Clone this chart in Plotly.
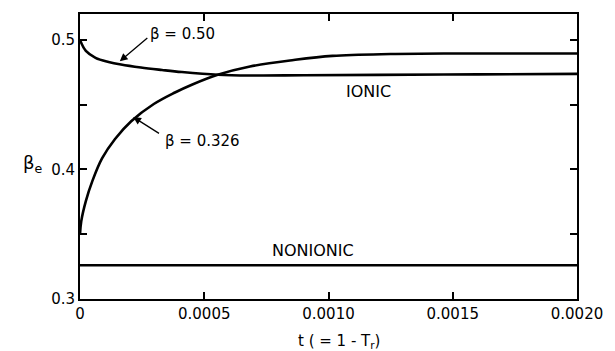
import plotly.graph_objects as go

# beta = 0.50 curve (ionic)
t_b50 = [0.0, 0.0000235, 0.0000625, 0.000115, 0.000165, 0.000245, 0.00033, 0.00041, 0.000555, 0.000684, 0.0009, 0.0012, 0.0016, 0.0020]
v_b50 = [0.500, 0.4915, 0.4862, 0.4830, 0.4810, 0.4787, 0.4768, 0.4752, 0.4731, 0.4725, 0.4727, 0.4730, 0.4734, 0.4738]

# beta = 0.326 curve (ionic)
t_b326 = [0.0, 0.000005, 0.0000235, 0.0000496, 0.0000887, 0.000141, 0.000206, 0.000297, 0.00038, 0.00045, 0.000554, 0.000684, 0.00086, 0.001016, 0.00125, 0.0015, 0.0020]
v_b326 = [0.350, 0.3600, 0.3756, 0.3910, 0.4085, 0.4235, 0.4372, 0.4505, 0.4592, 0.4654, 0.4731, 0.4795, 0.4845, 0.4877, 0.4891, 0.4895, 0.4895]

# nonionic
t_non = [0.0, 0.0020]
v_non = [0.326, 0.326]

x_ticks = [0, 0.0005, 0.0010, 0.0015, 0.0020]
x_ticktext = ["0", "0.0005", "0.0010", "0.0015", "0.0020"]
y_ticks = [0.3, 0.35, 0.4, 0.45, 0.5]
y_ticktext = ["0.3", "", "0.4", "", "0.5"]

FONT = "DejaVu Sans, sans-serif"
line = dict(color="black", width=2.6, shape="spline", smoothing=1.0)

fig = go.Figure()
fig.add_trace(go.Scatter(x=t_b50, y=v_b50, mode="lines", line=line, showlegend=False))
fig.add_trace(go.Scatter(x=t_b326, y=v_b326, mode="lines", line=line, showlegend=False))
fig.add_trace(go.Scatter(x=t_non, y=v_non, mode="lines", line=dict(color="black", width=2.6), showlegend=False))

axis_common = dict(showline=True, linecolor="black", linewidth=2, mirror="ticks",
                   ticks="inside", ticklen=7, tickwidth=1.5, tickcolor="black",
                   showgrid=False, zeroline=False, ticklabeloverflow="allow",
                   tickfont=dict(family=FONT, size=15, color="black"))

fig.update_xaxes(range=[0, 0.0020000001], tickvals=x_ticks, ticktext=x_ticktext, **axis_common)
fig.update_yaxes(range=[0.3, 0.52], tickvals=y_ticks, ticktext=y_ticktext, **axis_common)

txt = dict(family=FONT, size=15, color="black")
lab = dict(family=FONT, size=16, color="black")
anns = [
    dict(x=0.000414, y=0.5045, text="β = 0.50", showarrow=False, font=txt),
    dict(x=0.000492, y=0.4218, text="β = 0.326", showarrow=False, font=txt),
    dict(x=0.001161, y=0.4602, text="IONIC", showarrow=False, font=lab),
    dict(x=0.000938, y=0.3372, text="NONIONIC", showarrow=False, font=lab),
    dict(x=0.00016, y=0.4835, ax=0.000277, ay=0.5025, axref="x", ayref="y", text="",
         showarrow=True, arrowhead=2, arrowsize=1.2, arrowwidth=1.3, arrowcolor="black"),
    dict(x=0.000214, y=0.4405, ax=0.000324, ay=0.4271, axref="x", ayref="y", text="",
         showarrow=True, arrowhead=2, arrowsize=1.2, arrowwidth=1.3, arrowcolor="black"),
    dict(xref="paper", yref="paper", x=(346 - 80) / 510, y=-(342 - 299.3) / 287,
         text="t ( = 1 - T<sub>r</sub>)", showarrow=False, font=txt, yanchor="middle"),
    dict(xref="paper", yref="paper", x=(19 - 80) / 510, y=(299.3 - 163) / 287,
         text="β<sub>e</sub>", showarrow=False, font=dict(family=FONT, size=18, color="black")),
]
fig.update_layout(annotations=anns,
                  width=615, height=351,
                  margin=dict(l=80, r=25, t=13, b=52),
                  paper_bgcolor="white", plot_bgcolor="white")

fig.write_html("out.html")
